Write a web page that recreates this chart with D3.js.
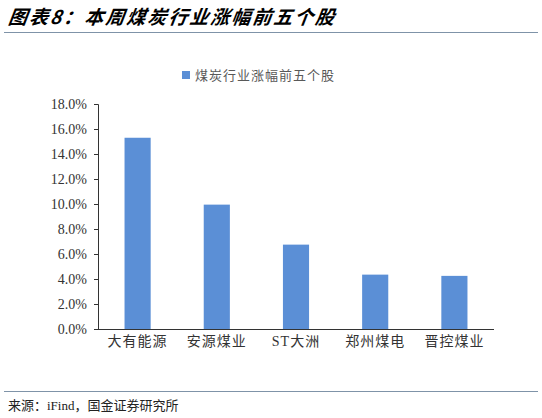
<!DOCTYPE html><html><head><meta charset="utf-8"><script src="https://cdn.jsdelivr.net/npm/d3@7"></script>
<style>body{margin:0;background:#fff}</style></head><body><svg id="c" width="542" height="418"></svg>
<script>
const categories=["大有能源","安源煤业","ST大洲","郑州煤电","晋控煤业"];
const values=[15.3,9.95,6.75,4.35,4.25];
const yTicks=[0,2,4,6,8,10,12,14,16,18];
const seriesName="煤炭行业涨幅前五个股";
const svg=d3.select("#c");
const serif="'Liberation Serif','Noto Sans CJK SC',serif";
svg.append("text").attr("x",8).attr("y",24).attr("font-size",19).attr("font-weight","bold").attr("font-style","italic").attr("letter-spacing",2)
 .attr("font-family","'Noto Sans CJK SC',sans-serif").attr("transform","skewX(-8) translate(3,0)").text("图表8：本周煤炭行业涨幅前五个股");
svg.append("line").attr("x1",4).attr("x2",538).attr("y1",32.5).attr("y2",32.5).attr("stroke","#7f93a8").attr("stroke-width",1);
const x=d3.scaleBand().domain(categories).range([98,494]).paddingInner(0.67).paddingOuter(0.335);
const y=d3.scaleLinear().domain([0,18]).range([329,104]);
svg.append("rect").attr("x",182).attr("y",71).attr("width",8).attr("height",8).attr("fill","#5b8fd6");
svg.append("text").attr("x",195).attr("y",80).attr("font-size",13).attr("letter-spacing",1).attr("fill","#595959").attr("font-family",serif).text(seriesName);
svg.selectAll(".b").data(values).join("rect").attr("x",(d,i)=>x(categories[i])).attr("width",x.bandwidth())
 .attr("y",d=>y(d)).attr("height",d=>y(0)-y(d)).attr("fill","#5b8fd6");
const ya=svg.append("g").attr("transform","translate(98,0)").call(d3.axisLeft(y).tickValues(yTicks).tickSize(4).tickFormat(d=>d.toFixed(1)+"%"));
ya.selectAll("text").attr("font-size",14).attr("font-family",serif).attr("fill","#333").attr("dx",-4);
ya.selectAll("path,line").attr("stroke","#333");
const xa=svg.append("g").attr("transform","translate(0,329)").call(d3.axisBottom(x).tickSize(0));
xa.select("path").attr("d","M98,0.5H494").attr("stroke","#333");
xa.selectAll("text").attr("font-size",14).attr("letter-spacing",1).attr("font-family",serif).attr("fill","#333").attr("dy",14);
svg.append("line").attr("x1",4).attr("x2",538).attr("y1",391.5).attr("y2",391.5).attr("stroke","#7f93a8");
svg.append("text").attr("x",8).attr("y",410).attr("font-size",13).attr("font-family",serif).attr("fill","#222").text("来源：iFind，国金证券研究所");
</script></body></html>
